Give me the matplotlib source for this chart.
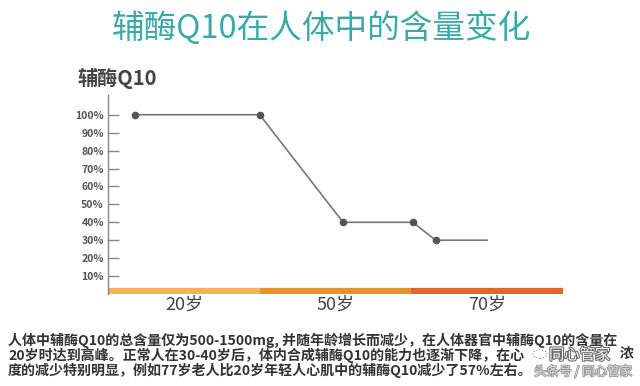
import matplotlib.pyplot as plt
import matplotlib.patheffects as pe
from matplotlib.patches import Circle

plt.rcParams['font.family'] = ['Noto Sans CJK SC', 'DejaVu Sans']

# data
stage_labels = ['20岁', '50岁', '70岁']
stage_colors = ['#F4B350', '#E8922A', '#E06A25']
x_pos = [0.18, 1.0, 1.55, 2.01, 2.16, 2.5]
content = [100, 100, 40, 40, 30, 30]
y_ticks = [10, 20, 30, 40, 50, 60, 70, 80, 90, 100]

title = '辅酶Q10在人体中的含量变化'
note_lines = [
    '人体中辅酶Q10的总含量仅为500-1500mg, 并随年龄增长而减少，在人体器官中辅酶Q10的含量在',
    '20岁时达到高峰。正常人在30-40岁后，体内合成辅酶Q10的能力也逐渐下降，在心',
    '度的减少特别明显，例如77岁老人比20岁年轻人心肌中的辅酶Q10减少了57%左右。',
]
note_tail = '浓'

fig = plt.figure(figsize=(6.4, 3.86), dpi=100, facecolor='white')
ax = fig.add_axes([108 / 640, 1 - 294 / 386, 455 / 640, 199 / 386])

ax.set_xlim(0, 3)
ax.set_ylim(0, 111)

# line with markers (last point has no marker)
ax.plot(x_pos, content, color='#777777', linewidth=1.2, zorder=3)
ax.plot(x_pos[:-1], content[:-1], 'o', color='#555555', markersize=4.5, zorder=4)

# coloured age bar along the bottom
for i, c in enumerate(stage_colors):
    ax.hlines(1.6, i, i + 1, color=c, linewidth=4.5, zorder=2)

for s in ['top', 'right', 'bottom']:
    ax.spines[s].set_visible(False)
ax.spines['left'].set_color('#888888')
ax.spines['left'].set_linewidth(1.0)

ax.set_yticks(y_ticks)
ax.set_yticklabels([f'{v}%' for v in y_ticks], fontsize=7.5, color='#555555',
                   fontweight='bold')
ax.tick_params(axis='y', direction='in', length=8, width=1.0, color='#888888', pad=3)

ax.set_xticks([0.5, 1.5, 2.5])
ax.set_xticklabels(stage_labels, fontsize=13, color='#444444', fontweight='medium')
ax.tick_params(axis='x', length=0, pad=1)

fig.text(0.502, 1 - 28 / 386, title, ha='center', va='center', fontsize=23.5,
         color='#3AAAA8', fontweight='medium')
fig.text(78 / 640, 1 - 78 / 386, '辅酶Q10', ha='left', va='center', fontsize=14.5,
         color='#444444', fontweight='bold')

for i, line in enumerate(note_lines):
    fig.text(8 / 640, 1 - (340 + 15 * i) / 386, line, ha='left', va='center',
             fontsize=10.1, color='#333333', fontweight='bold')
fig.text(620 / 640, 1 - 355 / 386, note_tail, ha='left', va='center',
         fontsize=10.1, color='#333333', fontweight='bold')

# watermark
fig.patches.append(Circle((540 / 640, 1 - 354 / 386), 0.011, transform=fig.transFigure,
                          fill=False, edgecolor='#888888', linewidth=0.8, linestyle=':'))
fig.text(549 / 640, 1 - 355 / 386, '同心管家', ha='left', va='center', fontsize=11,
         color='white', path_effects=[pe.withStroke(linewidth=1.5, foreground='#666666')])
fig.text(632 / 640, 1 - 372 / 386, '头条号 / 同心管家', ha='right', va='center',
         fontsize=9, color='#dddddd',
         path_effects=[pe.withStroke(linewidth=1.2, foreground='#999999')])

fig.savefig('out.png', dpi=100, facecolor='white')
